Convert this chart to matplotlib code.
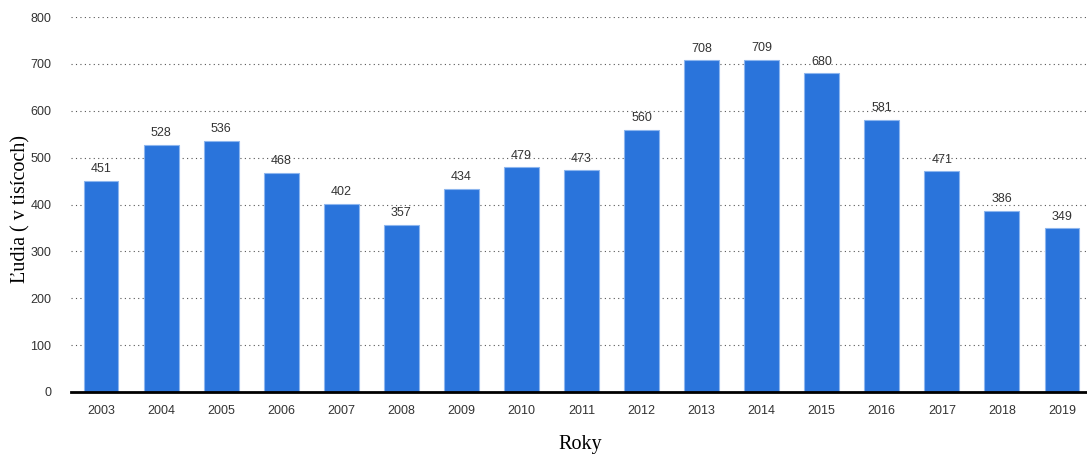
import matplotlib.pyplot as plt

years = ['2003', '2004', '2005', '2006', '2007', '2008', '2009', '2010', '2011',
         '2012', '2013', '2014', '2015', '2016', '2017', '2018', '2019']
people = [451, 528, 536, 468, 402, 357, 434, 479, 473,
          560, 708, 709, 680, 581, 471, 386, 349]

fig = plt.figure(figsize=(10.87, 4.57), dpi=100)
ax = fig.add_axes([71 / 1087, 65 / 457, 1021 / 1087, 375 / 457])

x = range(len(years))
ax.bar(x, people, width=0.58, color='#2a74db', edgecolor='#8db6ee',
       linewidth=0.8, zorder=3)

for i, v in enumerate(people):
    ax.text(i, v + 12, str(v), ha='center', va='bottom', fontsize=9,
            color='#333333', family='Liberation Sans')

ax.set_xlim(-0.5, len(years) - 0.5)
ax.set_ylim(0, 800)
ax.set_yticks(range(0, 801, 100))
ax.set_xticks(list(x))
ax.set_xticklabels(years)

ax.grid(axis='y', linestyle=(0, (1, 3)), color='#555555', linewidth=0.8, zorder=0)
for side in ['top', 'right', 'left']:
    ax.spines[side].set_visible(False)
ax.spines['bottom'].set_linewidth(2)
ax.spines['bottom'].set_color('black')
ax.spines['bottom'].set_zorder(4)
ax.tick_params(length=0, labelsize=9, labelcolor='#333333')
ax.tick_params(axis='x', pad=9)
ax.tick_params(axis='y', pad=14)
for lbl in ax.get_xticklabels() + ax.get_yticklabels():
    lbl.set_family('Liberation Sans')

fig.text(21 / 1087, 1 - 209 / 457, 'Ľudia ( v tisícoch)', family='Liberation Serif',
         fontsize=14.5, rotation=90, ha='center', va='center')
fig.text(580 / 1087, 1 - 445 / 457, 'Roky', family='Liberation Serif',
         fontsize=14.5, ha='center', va='center')

fig.savefig('out.png', dpi=100)
